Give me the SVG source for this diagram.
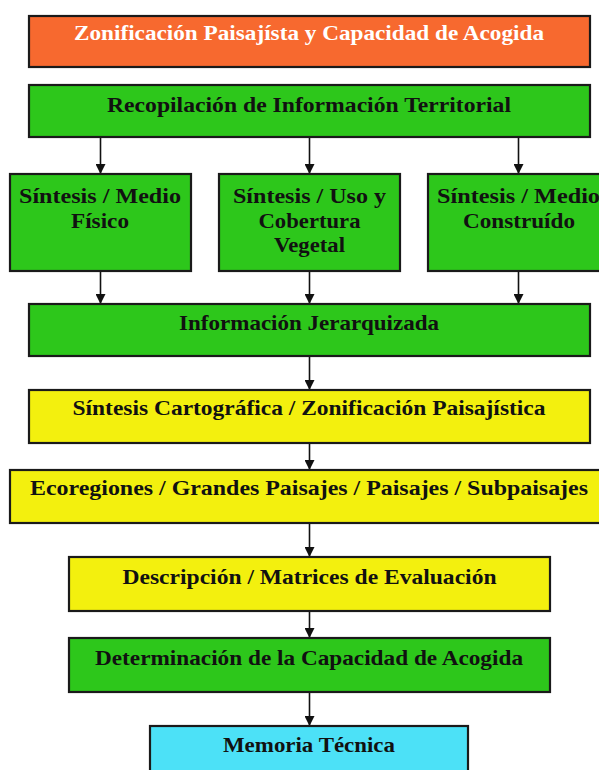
<svg xmlns="http://www.w3.org/2000/svg" width="599" height="770" viewBox="0 0 599 770">
<defs>
<style>
.box{stroke:#1a1a1a;stroke-width:2.2}
.or{fill:#F7692F}.gr{fill:#2DC71B}.ye{fill:#F3F00E}.cy{fill:#4CE1F7}
.t{font-family:"Liberation Serif","DejaVu Serif",serif;font-weight:bold;font-size:21px;fill:#111;text-anchor:middle}
.w{fill:#fff}
.c line{stroke:#111;stroke-width:1.6}
</style>
<marker id="ah" viewBox="0 0 10 10" refX="10" refY="5" markerWidth="10" markerHeight="10" markerUnits="userSpaceOnUse" orient="auto">
<path d="M0,0 L10,5 L0,10 Z" fill="#111"/>
</marker>
</defs>
<rect width="599" height="770" fill="#fff"/>
<g class="c">
<line x1="100.5" y1="137" x2="100.5" y2="174" marker-end="url(#ah)"/>
<line x1="309.5" y1="137" x2="309.5" y2="174" marker-end="url(#ah)"/>
<line x1="518.5" y1="137" x2="518.5" y2="174" marker-end="url(#ah)"/>
<line x1="100.5" y1="271" x2="100.5" y2="304" marker-end="url(#ah)"/>
<line x1="309.5" y1="271" x2="309.5" y2="304" marker-end="url(#ah)"/>
<line x1="518.5" y1="271" x2="518.5" y2="304" marker-end="url(#ah)"/>
<line x1="309.5" y1="356" x2="309.5" y2="390" marker-end="url(#ah)"/>
<line x1="309.5" y1="443" x2="309.5" y2="470" marker-end="url(#ah)"/>
<line x1="309.5" y1="523" x2="309.5" y2="557" marker-end="url(#ah)"/>
<line x1="309.5" y1="611" x2="309.5" y2="638" marker-end="url(#ah)"/>
<line x1="309.5" y1="692" x2="309.5" y2="726" marker-end="url(#ah)"/>
</g>
<g id="n1"><rect class="box or" x="29" y="16" width="561" height="51"/><text class="t w" x="309" y="40" textLength="470" lengthAdjust="spacingAndGlyphs">Zonificación Paisajísta y Capacidad de Acogida</text></g>
<g id="n2"><rect class="box gr" x="29" y="85" width="561" height="52"/><text class="t" x="309" y="112" textLength="404" lengthAdjust="spacingAndGlyphs">Recopilación de Información Territorial</text></g>
<g id="n3"><rect class="box gr" x="10" y="174" width="181" height="97"/><text class="t" x="100" y="203" textLength="162" lengthAdjust="spacingAndGlyphs">Síntesis / Medio</text><text class="t" x="100" y="228" textLength="58" lengthAdjust="spacingAndGlyphs">Físico</text></g>
<g id="n4"><rect class="box gr" x="219" y="174" width="181" height="97"/><text class="t" x="309.5" y="203" textLength="153" lengthAdjust="spacingAndGlyphs">Síntesis / Uso y</text><text class="t" x="309.5" y="228" textLength="102" lengthAdjust="spacingAndGlyphs">Cobertura</text><text class="t" x="309.5" y="252" textLength="71" lengthAdjust="spacingAndGlyphs">Vegetal</text></g>
<g id="n5"><rect class="box gr" x="428" y="174" width="181" height="97"/><text class="t" x="518.5" y="203" textLength="163" lengthAdjust="spacingAndGlyphs">Síntesis / Medio</text><text class="t" x="519" y="228" textLength="112" lengthAdjust="spacingAndGlyphs">Construído</text></g>
<g id="n6"><rect class="box gr" x="29" y="304" width="561" height="52"/><text class="t" x="309" y="330" textLength="260" lengthAdjust="spacingAndGlyphs">Información Jerarquizada</text></g>
<g id="n7"><rect class="box ye" x="29" y="390" width="561" height="53"/><text class="t" x="309" y="415" textLength="473" lengthAdjust="spacingAndGlyphs">Síntesis Cartográfica / Zonificación Paisajística</text></g>
<g id="n8"><rect class="box ye" x="10" y="470" width="600" height="53"/><text class="t" x="309" y="495" textLength="558" lengthAdjust="spacingAndGlyphs">Ecoregiones / Grandes Paisajes / Paisajes / Subpaisajes</text></g>
<g id="n9"><rect class="box ye" x="69" y="557" width="481" height="54"/><text class="t" x="309.5" y="584" textLength="374" lengthAdjust="spacingAndGlyphs">Descripción / Matrices de Evaluación</text></g>
<g id="n10"><rect class="box gr" x="69" y="638" width="481" height="54"/><text class="t" x="309" y="665" textLength="428" lengthAdjust="spacingAndGlyphs">Determinación de la Capacidad de Acogida</text></g>
<g id="n11"><rect class="box cy" x="150" y="726" width="318" height="60"/><text class="t" x="309" y="752" textLength="172" lengthAdjust="spacingAndGlyphs">Memoria Técnica</text></g>
</svg>
